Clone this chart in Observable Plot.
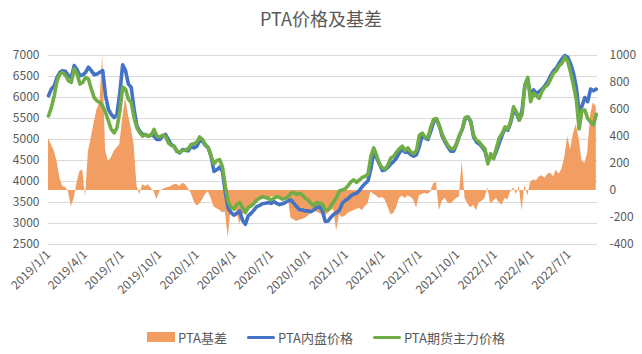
<!DOCTYPE html>
<html>
<head>
<meta charset="utf-8">
<script src="https://cdn.jsdelivr.net/npm/d3@7"></script>
<script src="https://cdn.jsdelivr.net/npm/@observablehq/plot@0.6"></script>
<style>
  html, body { margin: 0; padding: 0; background: #fff; }
  body { width: 642px; height: 354px; overflow: hidden; font-family: "Noto Sans CJK SC", "Noto Sans", sans-serif; color: #595959; }
  #title { height: 40px; box-sizing: border-box; padding-top: 6px; line-height: 24px; font-size: 18px; text-align: center; color: #595959; }
  #legend { height: 44px; display: flex; justify-content: center; align-items: center; font-size: 13px; color: #595959; padding-left: 10px; padding-top: 10px; box-sizing: border-box; }
  .item { display: flex; align-items: center; margin: 0 10px; }
  .sw { display: inline-block; width: 28px; margin-right: 3px; }
</style>
</head>
<body>
<div id="title">PTA价格及基差</div>
<div id="chart"></div>
<div id="legend"></div>
<script>
// Weekly samples starting 2019-01-01
const startDate = "2019-01-01";
const stepDays = 7;

// PTA内盘价格 (left axis, 元/吨)
const spotPrice = [
  6040, 6200, 6280, 6480, 6600, 6640, 6620, 6520, 6480, 6760,
  6660, 6520, 6540, 6600, 6720, 6640, 6540, 6560, 6600, 6640,
  6040, 5720, 5600, 5520, 5600, 6120, 6780, 6640, 6320, 6240,
  5720, 5320, 5200, 5120, 5120, 5080, 5120, 5080, 5000, 5000,
  5080, 5120, 5000, 4880, 4840, 4720, 4680, 4760, 4740,
  4730, 4840, 4800, 4840, 4980, 4960, 4860, 4800, 4600, 4240,
  4280, 4340, 4240, 3720, 3360, 3260, 3200, 3240, 3300, 3080,
  2980, 3180, 3240, 3320, 3400, 3430, 3470, 3480, 3500, 3480,
  3520, 3480, 3450, 3470, 3500, 3540, 3560, 3480, 3400, 3330,
  3320, 3300, 3300, 3280, 3320, 3380, 3400, 3300, 3050,
  3060, 3150, 3220, 3260, 3320, 3480, 3550, 3590, 3660, 3700,
  3720, 3790, 3880, 3950, 4020, 4300, 4700, 4560, 4420, 4260,
  4280, 4340, 4420, 4480, 4560, 4680, 4760, 4700, 4700, 4640,
  4600, 4640, 4840, 5120, 5040, 5000, 5200, 5420, 5480, 5320,
  5080, 4940, 4820, 4720, 4720, 4880, 5080, 5240, 5480,
  5540, 5430, 5060, 4940, 4890, 4820, 4720, 4460, 4600, 4560,
  4720, 4920, 5100, 5260, 5220, 5400, 5680, 5620, 5460, 5700,
  6300, 6420, 6040, 6180, 6100, 6140, 6200, 6280, 6380, 6520,
  6630, 6700, 6820, 6920, 7000, 6960, 6800, 6580, 6250, 5650,
  5800, 6000, 5900, 6200, 6160, 6200
];

// PTA期货主力价格 (left axis)
const futuresPrice = [
  5560, 5760, 6040, 6400, 6560, 6600, 6520, 6400, 6360, 6680,
  6560, 6320, 6360, 6480, 6440, 6200, 6000, 5920, 5880, 5800,
  5640, 5440, 5240, 5160, 5280, 5680, 6250, 6200, 5960, 5880,
  5520, 5280, 5160, 5080, 5120, 5080, 5100, 5240, 5080, 5060,
  5100, 5080, 4920, 4860, 4840, 4720, 4700, 4740, 4750,
  4780, 4880, 4900, 4940, 5060, 5000, 4880, 4800, 4600, 4420,
  4500, 4520, 4340, 3880, 3520, 3380, 3340, 3460, 3500, 3380,
  3260, 3380, 3420, 3480, 3560, 3600, 3640, 3620, 3600, 3560,
  3600, 3640, 3620, 3580, 3600, 3640, 3720, 3740, 3690, 3720,
  3680, 3600, 3560, 3480, 3420, 3500, 3480, 3460, 3320,
  3320, 3420, 3520, 3620, 3780, 3800, 3830, 3900, 3990, 4040,
  3980, 4040, 4100, 4120, 4180, 4600, 4800, 4620, 4420, 4320,
  4300, 4400, 4560, 4600, 4700, 4780, 4840, 4740, 4800, 4700,
  4660, 4740, 5100, 5150, 5060, 5040, 5300, 5480, 5500, 5320,
  5120, 4980, 4860, 4780, 4780, 4900, 5100, 5240, 5520,
  5540, 5420, 5100, 4980, 4940, 4850, 4780, 4420, 4660, 4540,
  4800, 5040, 5140, 5300, 5240, 5440, 5780, 5660, 5460, 5600,
  6300, 6480, 5900, 6100, 6040, 5980, 6150, 6250, 6300, 6440,
  6580, 6640, 6760, 6820, 6960, 6860, 6600, 6300, 5950, 5250,
  5700, 5700, 5500, 5420, 5350, 5600
];

// PTA基差 (right axis)
const basis = [
  383, 338, 294, 215, 91, 30, 22, -7, -120, -60,
  54, 141, 153, -50, 289, 388, 499, 598, 647, 1000,
  300, 215, 240, 289, 314, 338, 536, 684, 560, 462,
  338, 37, -32, 42, 30, 42, 17, -7, -69, -7,
  5, 17, 22, 30, 42, 47, 30, 54, 45,
  15, -20, -80, -115, -100, -70, -30, -10, -60, -120,
  -135, -145, -165, -160, -350, -140, -130, -150, -250, -180,
  -160, -130, -110, -95, -75, -60, -50, -45, -55, -50,
  -45, -55, -50, -55, -50, -50, -205, -217, -230, -220,
  -215, -205, -190, -170, -150, -160, -170, -180, -190,
  -170, -150, -140, -300, -180, -200, -190, -170, -160, -150,
  -140, -130, -150, -120, -100, -10, -30, -40, -60, -50,
  -70, -120, -180, -170, -130, -60, -40, -60, -40, -50,
  -70, -130, -40, -30, -20, -30, -10, 50, 60, -150,
  -80, -60, -90, -100, -80, -60, -50, 215, -60,
  -100, -130, -110, -150, -90, -80, -60, 20, -100, -80,
  -60, -90, -110, -60, -70, -10, 20, -30, 30, -150,
  40, -40, 60, 80, 70, 100, 110, 90, 120, 130,
  100, 150, 120, 160, 250, 400, 300, 420, 490, 380,
  220, 200, 280, 560, 650, 620
];

const leftTicks = [2500, 3000, 3500, 4000, 4500, 5000, 5500, 6000, 6500, 7000];
const rightTicks = [-400, -200, 0, 200, 400, 600, 800, 1000];
const xTickLabels = ["2019/1/1", "2019/4/1", "2019/7/1", "2019/10/1", "2020/1/1", "2020/4/1", "2020/7/1",
  "2020/10/1", "2021/1/1", "2021/4/1", "2021/7/1", "2021/10/1", "2022/1/1", "2022/4/1", "2022/7/1"];
const xDomain = ["2019-01-01", "2022-09-09"];
const seriesNames = ["PTA基差", "PTA内盘价格", "PTA期货主力价格"];
const colors = ["#F29D62", "#4472C4", "#70AD47"];

// map right-axis values onto left-axis scale
const L0 = 2500, L1 = 7000, R0 = -400, R1 = 1000;
const toLeft = b => L0 + (b - R0) * (L1 - L0) / (R1 - R0);
const toRight = v => Math.round(R0 + (v - L0) * (R1 - R0) / (L1 - L0));

const start = new Date(startDate + "T00:00:00Z");
const rows = spotPrice.map((v, i) => ({
  date: d3.utcDay.offset(start, stepDays * i),
  spot: v,
  fut: futuresPrice[i],
  basis: basis[i]
}));
const parseLabel = s => { const [y, m, d] = s.split("/").map(Number); return new Date(Date.UTC(y, m - 1, d)); };
const xTicks = xTickLabels.map(parseLabel);
const fmtX = d => `${d.getUTCFullYear()}/${d.getUTCMonth() + 1}/${d.getUTCDate()}`;

const chart = Plot.plot({
  width: 642,
  height: 270,
  marginLeft: 48,
  marginRight: 45,
  marginTop: 15,
  marginBottom: 66,
  style: { fontFamily: "'Noto Sans CJK SC', 'Noto Sans', sans-serif", fontSize: "12px", color: "#595959", background: "transparent" },
  x: { type: "utc", domain: xDomain.map(s => new Date(s + "T00:00:00Z")) },
  y: { domain: [L0, L1] },
  marks: [
    Plot.gridY(leftTicks, { stroke: "#d9d9d9", strokeOpacity: 1, strokeWidth: 1.2 }),
    Plot.areaY(rows, { x: "date", y1: () => toLeft(0), y2: d => toLeft(d.basis), fill: colors[0], fillOpacity: 1 }),
    Plot.lineY(rows, { x: "date", y: "spot", stroke: colors[1], strokeWidth: 3.6, strokeLinejoin: "round" }),
    Plot.lineY(rows, { x: "date", y: "fut", stroke: colors[2], strokeWidth: 3.6, strokeLinejoin: "round" }),
    Plot.axisY(leftTicks, { anchor: "left", tickSize: 0, tickPadding: 9, tickFormat: d => String(d), label: null, fontSize: 12 }),
    Plot.axisY(rightTicks.map(toLeft), { anchor: "right", tickSize: 0, tickPadding: 12, tickFormat: d => String(toRight(d)), label: null, fontSize: 12 }),
    Plot.axisX(xTicks, { tickSize: 0, tickPadding: 8, tickRotate: -45, tickFormat: fmtX, label: null, fontSize: 12 })
  ]
});
document.getElementById("chart").appendChild(chart);

// legend
const legend = document.getElementById("legend");
seriesNames.forEach((name, i) => {
  const item = document.createElement("div");
  item.className = "item";
  const sw = document.createElement("span");
  sw.className = "sw";
  sw.style.background = colors[i];
  sw.style.height = i === 0 ? "10px" : "3px";
  if (i > 0) sw.style.borderRadius = "1.5px";
  const t = document.createElement("span");
  t.textContent = name;
  item.appendChild(sw);
  item.appendChild(t);
  legend.appendChild(item);
});
</script>
</body>
</html>
